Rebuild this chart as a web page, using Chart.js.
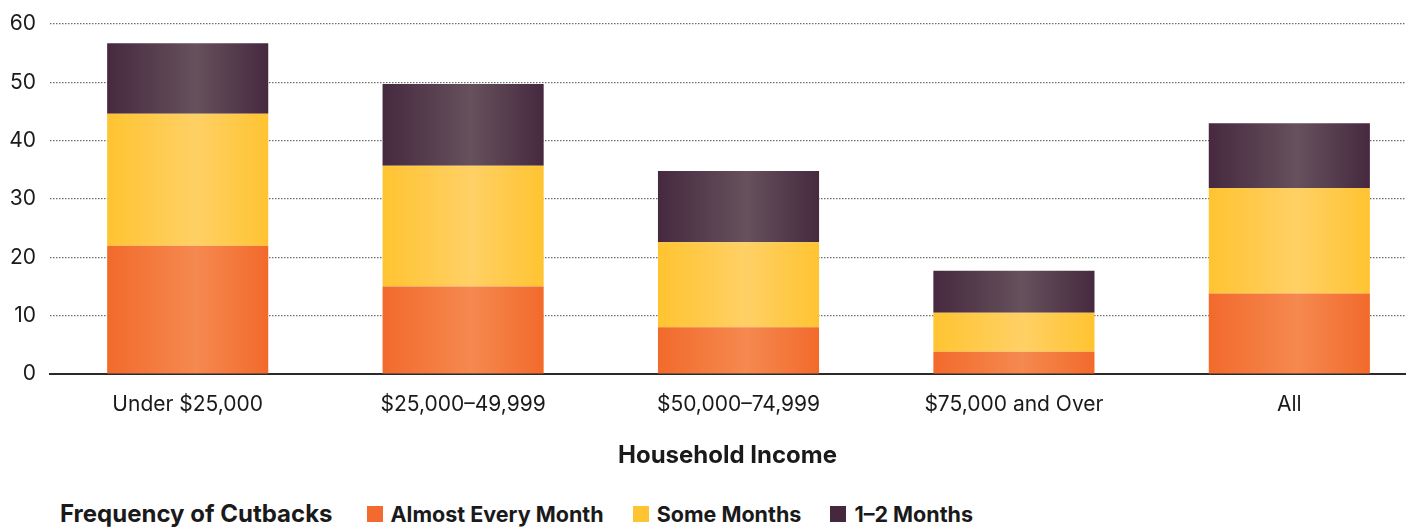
<!DOCTYPE html>
<html>
<head>
<meta charset="utf-8">
<script src="https://cdn.jsdelivr.net/npm/chart.js@4/dist/chart.umd.min.js"></script>
<style>
  html, body { margin: 0; padding: 0; background: #fff; }
  #wrap { position: relative; width: 1413px; height: 527px; overflow: hidden; }
  #box { position: absolute; left: 0; top: 0; width: 1413px; height: 478px; }
  #legend { position: absolute; left: 60px; top: 499px; display: flex; align-items: center;
    font-family: Inter, sans-serif; font-weight: 700; font-size: 21.5px; color: #1a1a1a; white-space: nowrap; }
  #legend .title { font-size: 24px; margin-right: 34px; }
  #legend .item { display: flex; align-items: center; margin-right: 29px; }
  #legend .sw { width: 16px; height: 16px; margin-right: 8px; }
</style>
</head>
<body>
<div id="wrap">
  <div id="box"><canvas id="chart"></canvas></div>
  <div id="legend"></div>
</div>
<script>
const categories = ['Under $25,000', '$25,000–49,999', '$50,000–74,999', '$75,000 and Over', 'All'];
const almostEveryMonth = [22, 15, 8, 3.8, 13.8];
const someMonths = [22.6, 20.7, 14.6, 6.7, 18.1];
const oneTwoMonths = [12.1, 14, 12.2, 7.2, 11.1];
const yTicks = [0, 10, 20, 30, 40, 50, 60];

const seriesNames = ['Almost Every Month', 'Some Months', '1–2 Months'];
const seriesValues = [almostEveryMonth, someMonths, oneTwoMonths];
const solid = ['#F26A2E', '#FFC431', '#45283D'];
const shine = [['#F26A2C', '#F5894F'], ['#FFC431', '#FFD065'], ['#46293F', '#66515C']];

const FONT = 'Inter, sans-serif';

// horizontal sheen on every bar
const sheen = {
  id: 'sheen',
  beforeDatasetsDraw(chart) {
    const ctx = chart.ctx;
    chart.data.datasets.forEach((ds, i) => {
      chart.getDatasetMeta(i).data.forEach(bar => {
        const { x, width } = bar.getProps(['x', 'width'], true);
        const g = ctx.createLinearGradient(x - width / 2, 0, x + width / 2, 0);
        g.addColorStop(0, shine[i][0]);
        g.addColorStop(0.55, shine[i][1]);
        g.addColorStop(1, shine[i][0]);
        bar.options.backgroundColor = g;
      });
    });
  }
};

new Chart(document.getElementById('chart').getContext('2d'), {
  type: 'bar',
  data: {
    datasets: seriesNames.map((name, i) => ({
      label: name,
      data: seriesValues[i].map((v, j) => ({ x: j, y: v })),
      // scriptable so each bar gets its own options object
      backgroundColor: () => solid[i],
      borderWidth: 0,
      barPercentage: 0.585,
      categoryPercentage: 1
    }))
  },
  options: {
    responsive: true,
    maintainAspectRatio: false,
    animation: false,
    layout: { padding: { top: 24, right: 8, left: 0, bottom: 0 } },
    plugins: { legend: { display: false }, tooltip: { enabled: false } },
    scales: {
      x: {
        type: 'linear',
        stacked: true,
        offset: false,
        min: -0.5,
        max: 4.42,
        grid: { display: false, drawTicks: false },
        border: { display: true, color: '#2a2a2a', width: 2 },
        afterBuildTicks: s => { s.ticks = categories.map((c, i) => ({ value: i })); },
        afterFit: s => { s.height = 104; s.paddingLeft = 0; s.paddingRight = 0; },
        ticks: {
          autoSkip: false,
          maxRotation: 0,
          padding: 18,
          color: '#1a1a1a',
          font: { family: FONT, size: 21 },
          callback: v => categories[v] ?? ''
        },
        title: {
          display: true,
          text: 'Household Income',
          color: '#1a1a1a',
          font: { family: FONT, size: 24, weight: '700' },
          padding: { top: 8, bottom: 8 }
        }
      },
      y: {
        stacked: true,
        min: 0,
        max: 60,
        afterFit: s => { s.width = 50; s.paddingTop = 0; s.paddingBottom = 0; },
        afterBuildTicks: s => { s.ticks = yTicks.map(v => ({ value: v })); },
        grid: { color: '#6f6f6f', lineWidth: 1.2, drawTicks: false },
        border: { display: false, dash: [1.5, 1.5] },
        ticks: {
          padding: 14,
          color: '#1a1a1a',
          font: { family: FONT, size: 21 }
        }
      }
    }
  },
  plugins: [sheen]
});

// legend row with its title, from the same series
const legend = document.getElementById('legend');
const t = document.createElement('span');
t.className = 'title';
t.textContent = 'Frequency of Cutbacks';
legend.appendChild(t);
seriesNames.forEach((name, i) => {
  const item = document.createElement('span');
  item.className = 'item';
  const sw = document.createElement('span');
  sw.className = 'sw';
  sw.style.background = solid[i];
  item.appendChild(sw);
  item.appendChild(document.createTextNode(name));
  legend.appendChild(item);
});
</script>
</body>
</html>
